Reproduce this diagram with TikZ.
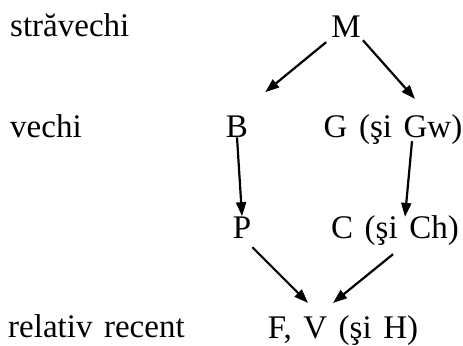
\documentclass[tikz,border=0pt]{standalone}
\usepackage{fontspec}
\setmainfont{Liberation Serif}[WordSpace=1.4]
\usepackage{tikz}
\usetikzlibrary{arrows.meta}

\begin{document}
\begin{tikzpicture}[x=1bp, y=1bp,
      lbl/.style={anchor=base west, inner sep=0pt, font=\fontsize{33bp}{40bp}\selectfont},
      form/.style={anchor=base, inner sep=0pt, font=\fontsize{33bp}{40bp}\selectfont},
      arrow/.style={-{Triangle[length=14bp, width=10bp]}, line width=2.2bp, draw=black}]
    \useasboundingbox (0,0) rectangle (463,-345);
    % age labels
    \node[lbl] (old2) at (10,-36) {străvechi};
    \node[lbl] (old1) at (10,-137) {vechi};
    \node[lbl] (recent) at (8,-337) {relativ recent};
    % forms
    \node[form] (m) at (346,-37) {M};
    \node[form] (b) at (237,-137) {B};
    \node[form] (g) at (393,-137) {G (şi Gw)};
    \node[form] (p) at (242,-238) {P};
    \node[form] (c) at (395,-238) {C (şi Ch)};
    \node[form] (fv) at (343,-338) {F, V (şi H)};
    \draw[arrow] ([shift={(-5,-5)}]m.south west) -- ([shift={(17,23)}]b.north east);
    \draw[arrow] ([shift={(2,-3)}]m.south east) -- ([shift={(22,15)}]g.north);
    \draw[arrow] (b.south) -- (p.north);
    \draw[arrow] ([shift={(19,3)}]g.south) -- ([shift={(10,-2)}]c.north);
    \draw[arrow] ([shift={(1,-9)}]p.south east) -- ([shift={(-35,12)}]fv.north);
    \draw[arrow] ([shift={(-2,-9)}]c.south) -- ([shift={(-10,12)}]fv.north);
  \end{tikzpicture}
\end{document}
